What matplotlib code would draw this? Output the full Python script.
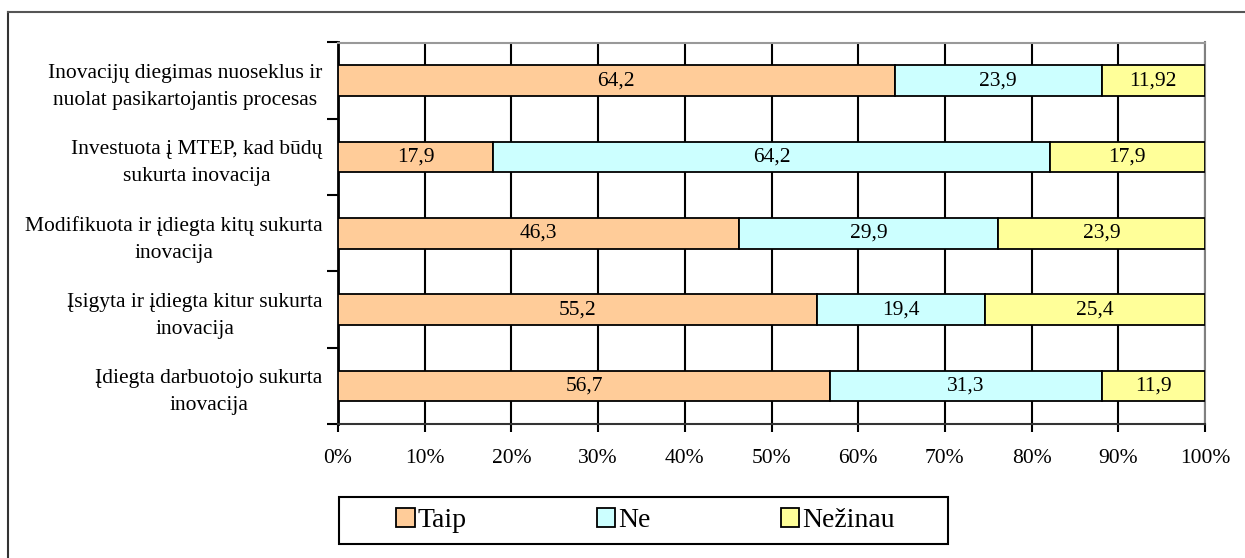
import matplotlib
matplotlib.use("Agg")
import matplotlib.pyplot as plt
from matplotlib.lines import Line2D
from matplotlib.patches import Rectangle
import numpy as np

plt.rcParams['font.family'] = ['Liberation Serif', 'DejaVu Serif']

categories = [
    "Inovacijų diegimas nuoseklus ir\nnuolat pasikartojantis procesas",
    "Investuota į MTEP, kad būdų\nsukurta inovacija",
    "Modifikuota ir įdiegta kitų sukurta\ninovacija",
    "Įsigyta ir įdiegta kitur sukurta\ninovacija",
    "Įdiegta darbuotojo sukurta\ninovacija",
]
taip = [64.2, 17.9, 46.3, 55.2, 56.7]
ne = [23.9, 64.2, 29.9, 19.4, 31.3]
nezinau = [11.92, 17.9, 23.9, 25.4, 11.9]
labels_taip = ["64,2", "17,9", "46,3", "55,2", "56,7"]
labels_ne = ["23,9", "64,2", "29,9", "19,4", "31,3"]
labels_nezinau = ["11,92", "17,9", "23,9", "25,4", "11,9"]
series_names = ["Taip", "Ne", "Nežinau"]
colors = ["#FFCC99", "#CCFFFF", "#FFFF99"]
xticks = [0, 10, 20, 30, 40, 50, 60, 70, 80, 90, 100]

W, H = 1245, 558
fig = plt.figure(figsize=(W / 100, H / 100), dpi=100)
ax = fig.add_axes([338 / W, 1 - 424 / H, (1205 - 338) / W, (424 - 42.5) / H])

raw = np.array([taip, ne, nezinau], dtype=float)
share = raw / raw.sum(axis=0) * 100.0
texts = [labels_taip, labels_ne, labels_nezinau]

y = np.arange(len(categories))
left = np.zeros(len(categories))
handles = []
for k in range(3):
    bars = ax.barh(y, share[k], left=left, height=0.4, color=colors[k],
                   edgecolor="black", linewidth=1.3, label=series_names[k],
                   zorder=3)
    handles.append(bars)
    for i, b in enumerate(bars):
        ax.text(left[i] + share[k][i] / 2, y[i], texts[k][i],
                ha="center", va="center", fontsize=15.5, zorder=4)
    left += share[k]

ax.set_xlim(0, 100)
ax.set_ylim(len(categories) - 0.5, -0.5)
ax.set_xticks(xticks)
ax.set_xticklabels([f"{v}%" for v in xticks], fontsize=15.5)
ax.xaxis.grid(True, color="black", linewidth=1.5, zorder=0)
ax.set_axisbelow(True)
ax.tick_params(axis="x", direction="out", length=6, width=1.5, pad=12)

ax.set_yticks(y)
ax.set_yticklabels(categories, fontsize=15.5, ha="right", multialignment="center",
                   linespacing=1.55)
ax.set_yticks(np.arange(-0.5, len(categories), 1.0), minor=True)
ax.tick_params(axis="y", which="major", length=0, pad=11)
ax.tick_params(axis="y", which="minor", direction="out", length=8, width=1.5)

ax.spines["left"].set_linewidth(2)
ax.spines["left"].set_color("black")
ax.spines["bottom"].set_linewidth(1.5)
ax.spines["bottom"].set_color("#333333")
ax.spines["top"].set_color("#999999")
ax.spines["top"].set_linewidth(1.5)
ax.spines["right"].set_color("#808080")
ax.spines["right"].set_linewidth(1.5)

# legend box
box_x0, box_x1, box_y0, box_y1 = 339, 948, 497, 544
fig.add_artist(Rectangle((box_x0 / W, 1 - box_y1 / H), (box_x1 - box_x0) / W,
                         (box_y1 - box_y0) / H, transform=fig.transFigure,
                         facecolor="white", edgecolor="black", linewidth=1.5))
leg = fig.legend(handles=handles, labels=series_names, loc="center", ncol=3,
                 bbox_to_anchor=((box_x0 + box_x1) / 2 / W + 2 / W,
                                 1 - (box_y0 + box_y1) / 2 / H),
                 bbox_transform=fig.transFigure, fontsize=20, frameon=False,
                 handlelength=0.66, handleheight=0.66, handletextpad=0.1,
                 columnspacing=4.7, borderpad=0.0)

# outer chart frame (left and top edges)
fig.add_artist(Line2D([8 / W, 8 / W], [0, 1 - 12 / H], transform=fig.transFigure,
                      color="#333333", linewidth=1.5))
fig.add_artist(Line2D([8 / W, 1], [1 - 12 / H, 1 - 12 / H], transform=fig.transFigure,
                      color="#555555", linewidth=1.5))

fig.savefig("out.png", dpi=100)
